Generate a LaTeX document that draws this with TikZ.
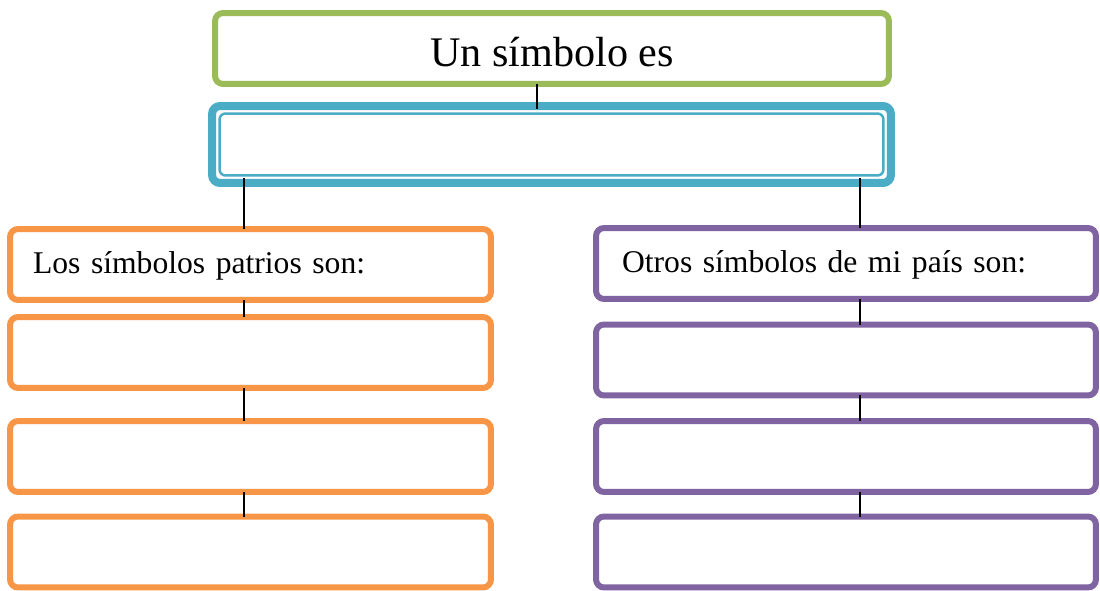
\documentclass[tikz,border=0pt]{standalone}
\usepackage{fontspec}
\setmainfont{Liberation Serif}
\definecolor{sym_green}{RGB}{155, 187, 89}
\definecolor{sym_blue}{RGB}{75, 172, 198}
\definecolor{sym_orange}{RGB}{247, 150, 70}
\definecolor{sym_purple}{RGB}{128, 100, 162}
\usetikzlibrary{calc}

\begin{document}
\begin{tikzpicture}[x=0.02cm, y=-0.02cm,
        tbox/.style={rectangle, rounded corners=0.16cm, outer sep=0pt, fill=white,
                     line width=0.12cm, minimum height=1.42cm},
        ttl/.style={tbox, draw=sym_green, minimum width=13.48cm,
                    font=\fontsize{24}{28}\selectfont, text height=0.74cm, text depth=0pt},
        dfn/.style={tbox, draw=sym_blue, line width=0.16cm, minimum width=13.58cm,
                    minimum height=1.54cm},
        obox/.style={tbox, draw=sym_orange, text width=8.70cm, inner xsep=0.46cm,
                     align=left, font=\fontsize{18}{22}\selectfont},
        pbox/.style={tbox, draw=sym_purple, text width=8.96cm, inner xsep=0.52cm,
                     align=left, font=\fontsize{18}{22}\selectfont},
        txt/.style={text height=0.5cm, text depth=0.14cm},
        lnk/.style={black, line width=1pt},
      ]
        \useasboundingbox (0,0) rectangle (1100,591);

        % Top
        \node[ttl] (tit) at (552,48.5) {Un símbolo es};
        \node[dfn] (def) at (551.5,144.5) {};
        \draw[sym_blue, line width=0.05cm, rounded corners=0.12cm]
          ([shift={(7.5,7.5)}]def.north west) rectangle ([shift={(-7.5,-7.5)}]def.south east);

        % Left column
        \node[obox, txt] (pat1) at (250.5,264.5) {Los símbolos patrios son:};
        \node[obox] (pat2) at (250.5,352.5) {};
        \node[obox] (pat3) at (250.5,456.5) {};
        \node[obox] (pat4) at (250.5,552) {};

        % Right column
        \node[pbox, txt] (otr1) at (846,263.5) {Otros símbolos de mi país son:};
        \node[pbox] (otr2) at (846,360) {};
        \node[pbox] (otr3) at (846,456.5) {};
        \node[pbox] (otr4) at (846,552) {};

        % Connectors
        \coordinate (cx) at (537,0);
        \coordinate (lx) at (244,0);
        \coordinate (rx) at (860,0);
        \draw[lnk] (tit.south -| cx) -- ([yshift=-0.06cm]def.north -| cx);
        \draw[lnk] ([yshift=0.1cm]def.south -| lx) -- (pat1.north -| lx);
        \draw[lnk] ([yshift=0.1cm]def.south -| rx) -- (otr1.north -| rx);
        \foreach \a/\b in {1/2, 2/3, 3/4} {
          \draw[lnk] (pat\a.south -| lx) -- (pat\b.north -| lx);
          \draw[lnk] (otr\a.south -| rx) -- (otr\b.north -| rx);
        }
      \end{tikzpicture}
\end{document}
